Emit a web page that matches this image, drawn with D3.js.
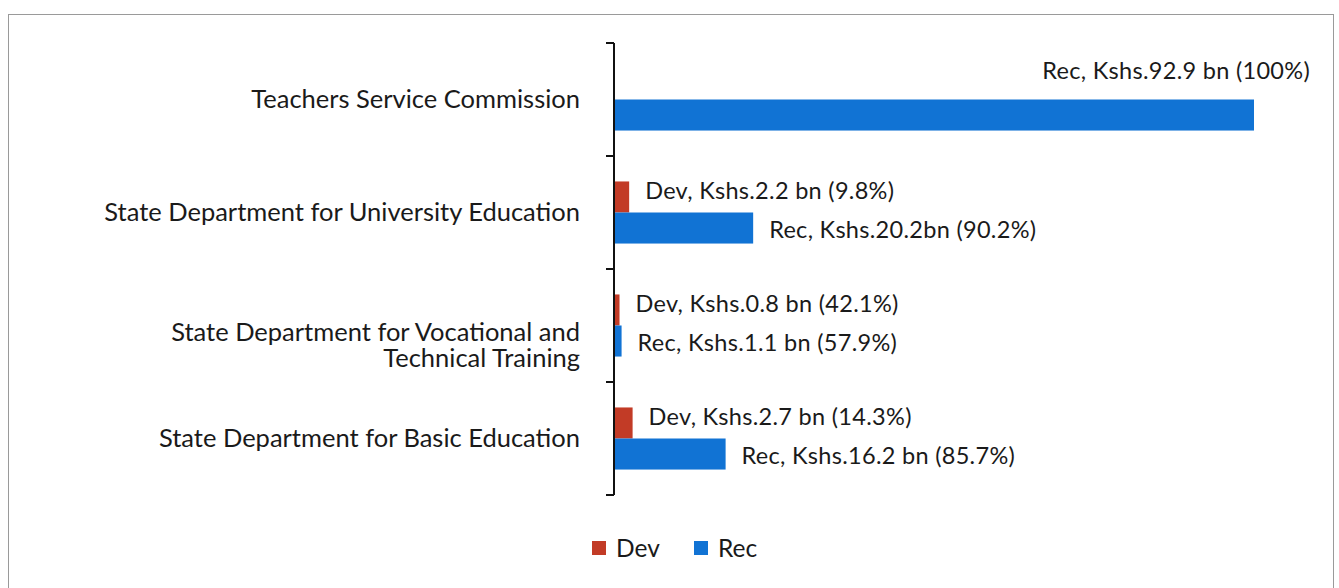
<!DOCTYPE html>
<html>
<head>
<meta charset="utf-8">
<script src="https://cdn.jsdelivr.net/npm/d3@7"></script>
<style>
  body { margin: 0; background: #fff; }
  svg { display: block; font-family: Lato, "Open Sans", sans-serif; }
</style>
</head>
<body>
<div id="chart"></div>
<script>
const WIDTH = 1339;
const HEIGHT = 588;

// data
const categories = [
  'Teachers Service Commission',
  'State Department for University Education',
  'State Department for Vocational and Technical Training',
  'State Department for Basic Education'
];
const series = ['Dev', 'Rec'];
const devValues = [0, 2.2, 0.8, 2.7];
const recValues = [92.9, 20.2, 1.1, 16.2];
const devLabels = [null, 'Dev, Kshs.2.2 bn (9.8%)', 'Dev, Kshs.0.8 bn (42.1%)', 'Dev, Kshs.2.7 bn (14.3%)'];
const recLabels = ['Rec, Kshs.92.9 bn (100%)', 'Rec, Kshs.20.2bn (90.2%)', 'Rec, Kshs.1.1 bn (57.9%)', 'Rec, Kshs.16.2 bn (85.7%)'];

const COLORS = { Dev: '#c23b26', Rec: '#1173d4' };

const margin = { top: 43, left: 614 };
const AXIS_BOTTOM = 495;

const svg = d3.select('#chart').append('svg')
  .attr('width', WIDTH)
  .attr('height', HEIGHT);

// frame
svg.append('rect')
  .attr('x', 8.5).attr('y', 14.5)
  .attr('width', 1325).attr('height', 600)
  .attr('fill', 'none')
  .attr('stroke', '#9a9a9a')
  .attr('stroke-width', 1);

const x = d3.scaleLinear()
  .domain([0, 92.9])
  .range([margin.left, 1254]);

const y = d3.scaleBand()
  .domain(categories)
  .range([margin.top, AXIS_BOTTOM]);

const inner = d3.scaleBand()
  .domain(series)
  .range([0, y.bandwidth()])
  .paddingOuter(0.82);

const rows = categories.map((c, i) => ({
  cat: c,
  bars: [
    { key: 'Dev', value: devValues[i], label: devLabels[i] },
    { key: 'Rec', value: recValues[i], label: recLabels[i] }
  ]
}));

// bars
const groups = svg.append('g').attr('id', 'bars')
  .selectAll('g')
  .data(rows)
  .enter()
  .append('g')
  .attr('transform', d => `translate(0,${y(d.cat)})`);

groups.selectAll('rect')
  .data(d => d.bars.filter(b => b.value > 0))
  .enter()
  .append('rect')
  .attr('x', x(0))
  .attr('y', d => inner(d.key))
  .attr('width', d => x(d.value) - x(0))
  .attr('height', inner.bandwidth())
  .attr('fill', d => COLORS[d.key]);

// value labels (the long bar gets its label above its end)
groups.selectAll('text')
  .data(d => d.bars.filter(b => b.label))
  .enter()
  .append('text')
  .attr('x', d => d.value > 50 ? x(d.value) + 56 : x(d.value) + 16)
  .attr('y', d => d.value > 50
    ? inner(d.key) - 29
    : inner(d.key) + inner.bandwidth() / 2 + (d.key === 'Dev' ? -6 : 2))
  .attr('dy', '0.35em')
  .attr('text-anchor', d => d.value > 50 ? 'end' : 'start')
  .attr('font-size', 23.5)
  .attr('letter-spacing', 0.3)
  .attr('fill', '#1a1a1a')
  .text(d => d.label);

// axis
const axis = svg.append('g')
  .attr('transform', `translate(${margin.left},0)`);

axis.append('line')
  .attr('y1', margin.top).attr('y2', AXIS_BOTTOM)
  .attr('stroke', '#111').attr('stroke-width', 2);

axis.selectAll('line.tick')
  .data(categories.map(c => y(c)).concat([AXIS_BOTTOM]))
  .enter()
  .append('line')
  .attr('class', 'tick')
  .attr('x1', -8).attr('x2', 0)
  .attr('y1', d => d).attr('y2', d => d)
  .attr('stroke', '#111').attr('stroke-width', 2);

// category labels
const wrapped = {
  'State Department for Vocational and Technical Training': ['State Department for Vocational and', 'Technical Training']
};

svg.append('g').attr('id', 'cats')
  .selectAll('text')
  .data(categories)
  .enter()
  .append('text')
  .attr('x', 580)
  .attr('y', d => y(d) + y.bandwidth() / 2)
  .attr('text-anchor', 'end')
  .attr('font-size', 25.5)
  .attr('fill', '#1a1a1a')
  .each(function (d) {
    const lines = wrapped[d] || [d];
    const t = d3.select(this);
    lines.forEach((ln, i) => {
      t.append('tspan')
        .attr('x', 580)
        .attr('dy', i === 0 ? (lines.length > 1 ? '0.62em' : '0.35em') : '1.0em')
        .text(ln);
    });
  });

// legend
const legend = svg.append('g').attr('id', 'legend')
  .selectAll('g')
  .data(series)
  .enter()
  .append('g')
  .attr('transform', (d, i) => `translate(${592 + i * 102},541)`);

legend.append('rect')
  .attr('width', 14).attr('height', 14)
  .attr('fill', d => COLORS[d]);

legend.append('text')
  .attr('x', 24).attr('y', 7)
  .attr('dy', '0.35em')
  .attr('font-size', 24.5)
  .attr('fill', '#1a1a1a')
  .text(d => d);
</script>
</body>
</html>
